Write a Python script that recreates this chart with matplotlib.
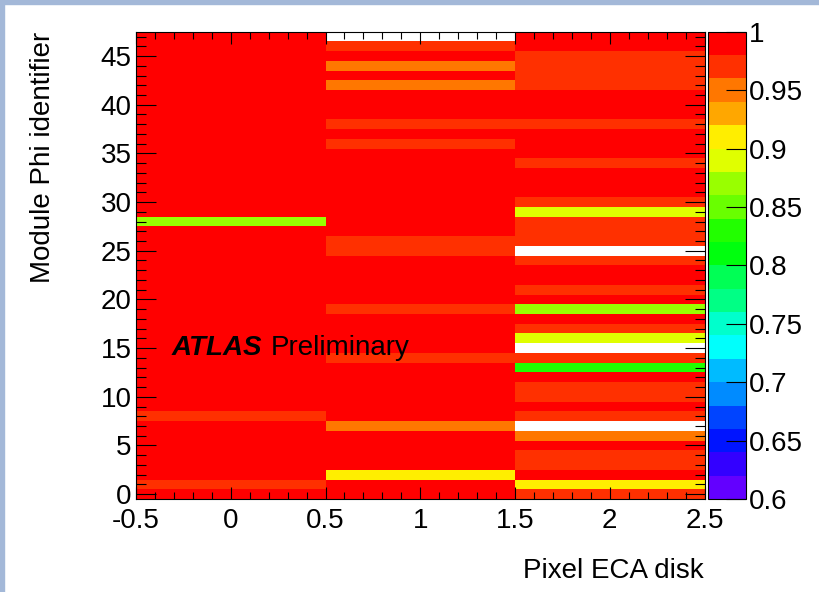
import colorsys

import numpy as np
import matplotlib
matplotlib.use("Agg")
from matplotlib import pyplot as plt
from matplotlib import colors as mcolors
from matplotlib.patches import Rectangle
from matplotlib.ticker import MultipleLocator, FuncFormatter

plt.rcParams["font.family"] = ["Liberation Sans", "DejaVu Sans"]

# module efficiency per disk, list index = module phi identifier (0..47)
# 0 means the module has no entry and stays white
disks = [0, 1, 2]
phi_ids = list(range(48))

eff_disk0 = [
    0.99, 0.97, 0.99, 0.99, 0.99, 0.99, 0.99, 0.99, 0.97, 0.99,  # 0-9
    0.99, 0.99, 0.99, 0.99, 0.99, 0.99, 0.99, 0.99, 0.99, 0.99,  # 10-19
    0.99, 0.99, 0.99, 0.99, 0.99, 0.99, 0.99, 0.99, 0.87, 0.99,  # 20-29
    0.99, 0.99, 0.99, 0.99, 0.99, 0.99, 0.99, 0.99, 0.99, 0.99,  # 30-39
    0.99, 0.99, 0.99, 0.99, 0.99, 0.99, 0.99, 0.99,              # 40-47
]
eff_disk1 = [
    0.99, 0.99, 0.91, 0.99, 0.99, 0.99, 0.99, 0.95, 0.99, 0.99,
    0.99, 0.99, 0.99, 0.99, 0.97, 0.99, 0.99, 0.99, 0.99, 0.97,
    0.99, 0.99, 0.99, 0.99, 0.99, 0.97, 0.97, 0.99, 0.99, 0.99,
    0.99, 0.99, 0.99, 0.99, 0.99, 0.99, 0.97, 0.99, 0.97, 0.99,
    0.99, 0.99, 0.95, 0.99, 0.95, 0.99, 0.97, 0.0,
]
eff_disk2 = [
    0.97, 0.91, 0.99, 0.97, 0.97, 0.99, 0.95, 0.0, 0.97, 0.99,
    0.97, 0.97, 0.99, 0.83, 0.97, 0.0, 0.89, 0.97, 0.99, 0.87,
    0.99, 0.97, 0.99, 0.99, 0.97, 0.0, 0.97, 0.97, 0.97, 0.89,
    0.97, 0.99, 0.99, 0.99, 0.97, 0.99, 0.99, 0.99, 0.97, 0.99,
    0.99, 0.99, 0.97, 0.97, 0.97, 0.97, 0.99, 0.99,
]

z_min, z_max = 0.6, 1.0
n_levels = 20
z_ticks = [0.6, 0.65, 0.7, 0.75, 0.8, 0.85, 0.9, 0.95, 1.0]


def pretty_palette(n_levels, n_base=50, max_hue=280.0):
    # ROOT style rainbow: 50 hues violet -> red, sampled once per contour
    base = []
    for i in range(n_base):
        hue = max_hue - (i + 1) * max_hue / n_base
        base.append(colorsys.hls_to_rgb(hue / 360.0, 0.5, 1.0))
    return [base[int((k + 0.99) * n_base / n_levels)] for k in range(n_levels)]


cmap = mcolors.ListedColormap(pretty_palette(n_levels))
cmap.set_under("white")
norm = mcolors.BoundaryNorm(np.linspace(z_min, z_max, n_levels + 1), n_levels)

z = np.array([eff_disk0, eff_disk1, eff_disk2]).T
x_edges = np.arange(len(disks) + 1) - 0.5
y_edges = np.arange(len(phi_ids) + 1) - 0.5

W, H = 819, 592
fig = plt.figure(figsize=(W / 100, H / 100), dpi=100)
ax = fig.add_axes([136 / W, 93 / H, 568.5 / W, 467.3 / H])
cax = fig.add_axes([707.7 / W, 93 / H, 38 / W, 467.3 / H])

mesh = ax.pcolormesh(x_edges, y_edges, z, cmap=cmap, norm=norm)
ax.set_xlim(x_edges[0], x_edges[-1])
ax.set_ylim(y_edges[0], y_edges[-1])

fmt = FuncFormatter(lambda v, pos: "%g" % round(v, 3))
ax.xaxis.set_major_locator(MultipleLocator(0.5))
ax.xaxis.set_minor_locator(MultipleLocator(0.1))
ax.yaxis.set_major_locator(MultipleLocator(5))
ax.yaxis.set_minor_locator(MultipleLocator(1))
ax.xaxis.set_major_formatter(fmt)

ax.tick_params(which="both", direction="in", top=True, right=True,
               labelsize=20, width=0.8, color="black")
ax.tick_params(axis="y", which="major", length=14.4, pad=3)
ax.tick_params(axis="y", which="minor", length=7.2)
ax.tick_params(axis="x", which="major", length=8.6, pad=6.5)
ax.tick_params(axis="x", which="minor", length=4.7)
for sp in ax.spines.values():
    sp.set_linewidth(0.8)

# palette axis
cb = fig.colorbar(mesh, cax=cax)
cb.set_ticks(z_ticks)
cb.ax.yaxis.set_major_formatter(fmt)
cb.minorticks_off()
cb.ax.tick_params(direction="in", length=14.4, width=0.8, labelsize=20, pad=2.5)
cb.outline.set_linewidth(0.8)

fig.text(43 / W, 1 - 31.7 / H, "Module Phi identifier", rotation=90,
         ha="center", va="top", fontsize=20)
fig.text(704 / W, 1 - 578 / H, "Pixel ECA disk", ha="right", va="baseline",
         fontsize=20)

ax.text(-0.31, 14.3, "ATLAS", fontsize=20, fontweight="bold",
        fontstyle="italic", va="baseline")
ax.text(0.21, 14.3, "Preliminary", fontsize=20, va="baseline")

# thin frame strips on the left and top edge
fig.patches.append(Rectangle((0, 0), 4 / W, 1, transform=fig.transFigure,
                             color="#a3b8d8", zorder=0))
fig.patches.append(Rectangle((0, 1 - 4 / H), 1, 4 / H, transform=fig.transFigure,
                             color="#a3b8d8", zorder=0))

fig.savefig("out.png", dpi=100)
